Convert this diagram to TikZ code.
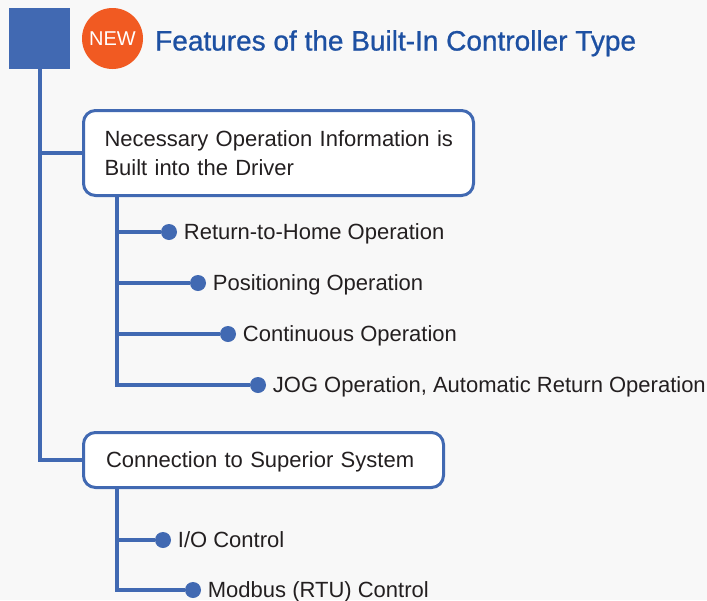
\documentclass[tikz,border=0pt]{standalone}
\usepackage{fontspec}
\setmainfont{Liberation Sans}
\newfontfamily\titlefont[FakeBold=0.8]{Liberation Sans}
\usetikzlibrary{positioning}
\definecolor{linkblue}{HTML}{4169B2}
\definecolor{titleblue}{HTML}{1D50A2}
\definecolor{neworange}{HTML}{F15A22}
\definecolor{textgray}{HTML}{231F20}
\definecolor{paper}{HTML}{F8F8F8}
\tikzset{
	featbox/.style={draw=linkblue, line width=3pt, rounded corners=12pt, fill=white, align=left, inner xsep=20pt, inner ysep=0pt, text=textgray, font=\fontsize{22}{29}\selectfont},
	dot/.style={circle, fill=linkblue, inner sep=0pt, minimum size=16pt},
	item/.style={right=6.5pt of #1, inner sep=0pt, text height=15.5pt, text depth=0pt, text=textgray, font=\fontsize{22}{26}\selectfont},
	branch/.style={draw=linkblue, line width=4pt}
}
\begin{document}
\begin{tikzpicture}[x=1pt, y=-1pt]
			%%%%% START %%%%%
			
			\fill[paper] (0, 0) rectangle (707, 600);
			\clip (0, 0) rectangle (707, 600);
			
			% heading
			\node[fill=linkblue, minimum size=61pt, inner sep=0pt] (sq) at (39.5, 38.5) {};
			\node[circle, fill=neworange, minimum size=61pt, inner sep=0pt, text=white, font=\fontsize{20}{20}\selectfont] (new) at (112.5, 38.5) {NEW};
			\node[anchor=west, inner sep=0pt, text height=20pt, text depth=0pt, text=titleblue, font=\titlefont\fontsize{28}{30}\selectfont] (title) at (155, 40.5) {Features of the Built-In Controller Type};
			
			% boxes
			\node[featbox, text width=356pt, inner xsep=17pt, minimum height=85pt] (info) at (278.5, 153) {\hspace*{4pt}Necessary Operation Information is\\\hspace*{4pt}Built into the Driver};
			\node[featbox, text width=320pt, minimum height=55pt, text height=15.5pt, text depth=0pt] (host) at (263.5, 460) {\hspace*{2.5pt}Connection to Superior System};
			
			% bullets
			\node[dot] (d1) at (169, 232) {};
			\node[dot] (d2) at (198, 283) {};
			\node[dot] (d3) at (228, 334) {};
			\node[dot] (d4) at (258, 385) {};
			\node[dot] (e1) at (163, 540) {};
			\node[dot] (e2) at (193, 590) {};
			
			\node[item=d1] (l1) {Return-to-Home Operation};
			\node[item=d2] (l2) {Positioning Operation};
			\node[item=d3] (l3) {Continuous Operation};
			\node[item=d4] (l4) {JOG Operation, Automatic Return Operation};
			\node[item=e1] (m1) {I/O Control};
			\node[item=e2] (m2) {Modbus (RTU) Control};
			
			% connectors
			\draw[branch] (sq.south) |- (host.west);
			\draw[branch] (sq.south |- info.west) -- (info.west);
			
			\coordinate (t1) at (117, 196);
			\draw[branch] (t1) |- (d4.west);
			\draw[branch] (t1 |- d1) -- (d1.west);
			\draw[branch] (t1 |- d2) -- (d2.west);
			\draw[branch] (t1 |- d3) -- (d3.west);
			
			\coordinate (t2) at (117, 488);
			\draw[branch] (t2) |- (e2.west);
			\draw[branch] (t2 |- e1) -- (e1.west);
			
			%%%%% END %%%%%
\end{tikzpicture}
\end{document}
